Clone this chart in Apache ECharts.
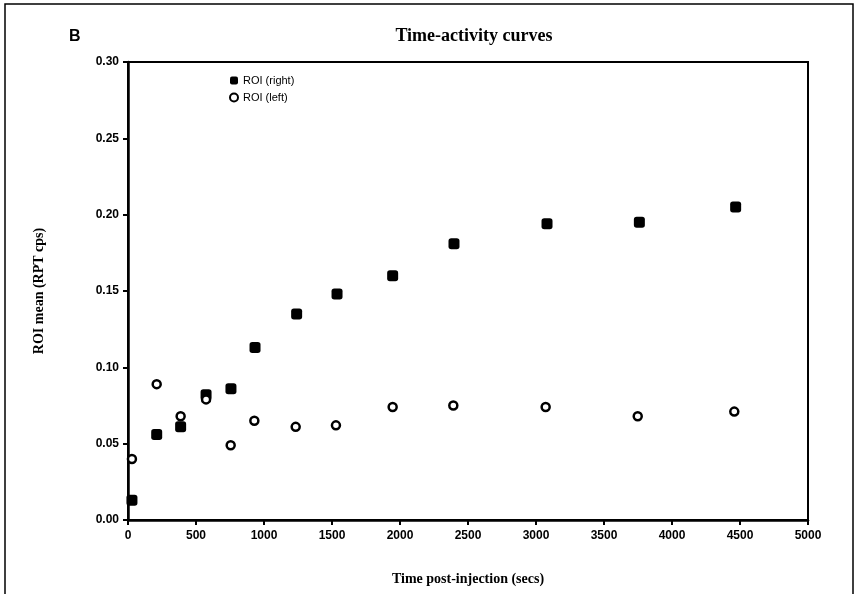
<!DOCTYPE html>
<html>
<head>
<meta charset="utf-8">
<script src="https://cdn.jsdelivr.net/npm/echarts@6/dist/echarts.min.js"></script>
<style>
  html, body { margin: 0; padding: 0; background: #fff; }
  #chart { width: 858px; height: 594px; }
</style>
</head>
<body>
<div id="chart"></div>
<script>
// time post-injection (secs) for each sample
const timeRight = [29, 211, 387, 574, 757, 934, 1240, 1537, 1946, 2397, 3081, 3760, 4468]
const roiRight = [0.013, 0.056, 0.061, 0.082, 0.086, 0.113, 0.135, 0.148, 0.160, 0.181, 0.194, 0.195, 0.205]
const timeLeft = [29, 211, 387, 574, 755, 929, 1233, 1529, 1946, 2392, 3071, 3748, 4458]
const roiLeft = [0.040, 0.089, 0.068, 0.079, 0.049, 0.065, 0.061, 0.062, 0.074, 0.075, 0.074, 0.068, 0.071]

const pair = (xs, ys) => xs.map((x, i) => [x, ys[i]])

const sansBold = { fontFamily: 'Liberation Sans', fontWeight: 'bold', fontSize: 12, color: '#000' }
const serifBold = { fontFamily: 'Liberation Serif', fontWeight: 'bold', color: '#000' }

const myChart = echarts.init(document.getElementById('chart'))
const option = {
  backgroundColor: '#fff',
  animation: false,
  title: [{
    text: 'Time-activity curves',
    left: 469,
    top: 22,
    textAlign: 'center',
    textStyle: Object.assign({ fontSize: 18 }, serifBold)
  }, {
    text: 'B',
    left: 64,
    top: 24,
    textStyle: { fontFamily: 'Liberation Sans', fontWeight: 'bold', fontSize: 16, color: '#000' }
  }],
  legend: {
    orient: 'vertical',
    left: 224,
    top: 70,
    itemGap: 6,
    itemWidth: 8,
    itemHeight: 8,
    textStyle: { fontFamily: 'Liberation Sans', fontSize: 11, color: '#000' },
    data: [
      { name: 'ROI (right)', icon: 'roundRect', itemStyle: { color: '#000' } },
      { name: 'ROI (left)', icon: 'circle', itemStyle: { color: '#fff', borderColor: '#000', borderWidth: 2 } }
    ]
  },
  grid: {
    left: 128,
    right: 50,
    top: 62,
    bottom: 74,
    show: true,
    borderColor: '#000',
    borderWidth: 2
  },
  xAxis: {
    type: 'value',
    min: 0,
    max: 5000,
    interval: 500,
    name: 'Time post-injection (secs)',
    nameLocation: 'middle',
    nameGap: 52,
    nameTextStyle: Object.assign({ fontSize: 14 }, serifBold),
    axisLine: { show: true, onZero: false, lineStyle: { color: '#000', width: 2.5 } },
    axisTick: { show: true, length: 5, lineStyle: { color: '#000', width: 2 } },
    axisLabel: Object.assign({ margin: 10, formatter: v => String(v) }, sansBold),
    splitLine: { show: false }
  },
  yAxis: {
    type: 'value',
    min: 0,
    max: 0.3,
    interval: 0.05,
    name: 'ROI mean (RPT cps)',
    nameLocation: 'middle',
    nameGap: 82,
    nameTextStyle: Object.assign({ fontSize: 14 }, serifBold),
    axisLine: { show: true, lineStyle: { color: '#000', width: 2.5 } },
    axisTick: { show: true, length: 5, lineStyle: { color: '#000', width: 2 } },
    axisLabel: Object.assign({ margin: 9, formatter: v => v.toFixed(2) }, sansBold),
    splitLine: { show: false }
  },
  graphic: [{
    type: 'polyline',
    silent: true,
    shape: { points: [[5, 594], [5, 4], [853, 4], [853, 594]] },
    style: { stroke: '#000', lineWidth: 1.5, fill: null }
  }],
  series: [{
    name: 'ROI (right)',
    type: 'scatter',
    symbol: 'roundRect',
    symbolSize: 11,
    itemStyle: { color: '#000', opacity: 1 },
    data: pair(timeRight, roiRight)
  }, {
    name: 'ROI (left)',
    type: 'scatter',
    symbol: 'circle',
    symbolSize: 8,
    itemStyle: { color: '#fff', borderColor: '#000', borderWidth: 2.5, opacity: 1 },
    data: pair(timeLeft, roiLeft)
  }]
}
myChart.setOption(option)
</script>
</body>
</html>
